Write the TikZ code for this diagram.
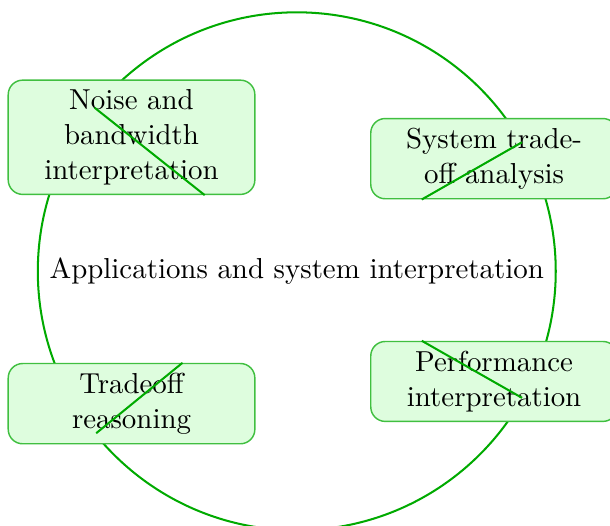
\documentclass[tikz,border=0pt]{standalone}
\usepackage{tikz}
\definecolor{ringgreen}{RGB}{0,170,0}
\definecolor{boxfill}{RGB}{222,253,222}
\begin{document}
\begin{tikzpicture}[>=latex,
  ringline/.style={draw=ringgreen, line width=0.7pt},
  appbox/.style={rectangle, rounded corners=5pt, draw=ringgreen!75, fill=boxfill, line width=0.5pt,
    text width=2.4cm, minimum width=3cm, align=center},
  slash/.style={draw=ringgreen, line width=0.7pt}]
\begin{scope}

\useasboundingbox (-3.61,-3.09) rectangle (3.81,3.30);

% ring round the centre
\node[circle, ringline, minimum size=6.3cm] (ring) at (0,0) {};
\node (centre) at (0,0) {Applications and system interpretation};

% the four boxes
\node[appbox] (noise) at (-2.01,1.63) {Noise and bandwidth interpretation};
\node[appbox] (trade) at (2.40,1.37) {System trade-off analysis};
\node[appbox] (reason) at (-2.01,-1.61) {Tradeoff reasoning};
\node[appbox] (perf) at (2.40,-1.34) {Performance interpretation};

% strokes across the boxes
\coordinate (noise_a) at (-2.46,1.99);
\coordinate (noise_b) at (noise.south -| -1.12,0);
\draw[slash] (noise_a) -- (noise_b);

\coordinate (trade_a) at (trade.south -| 1.52,0);
\coordinate (trade_b) at (2.74,1.57);
\draw[slash] (trade_a) -- (trade_b);

\coordinate (reason_a) at (-2.44,-1.97);
\coordinate (reason_b) at (reason.north -| -1.39,0);
\draw[slash] (reason_a) -- (reason_b);

\coordinate (perf_a) at (perf.north -| 1.52,0);
\coordinate (perf_b) at (2.74,-1.54);
\draw[slash] (perf_a) -- (perf_b);

\end{scope}
\end{tikzpicture}
\end{document}
